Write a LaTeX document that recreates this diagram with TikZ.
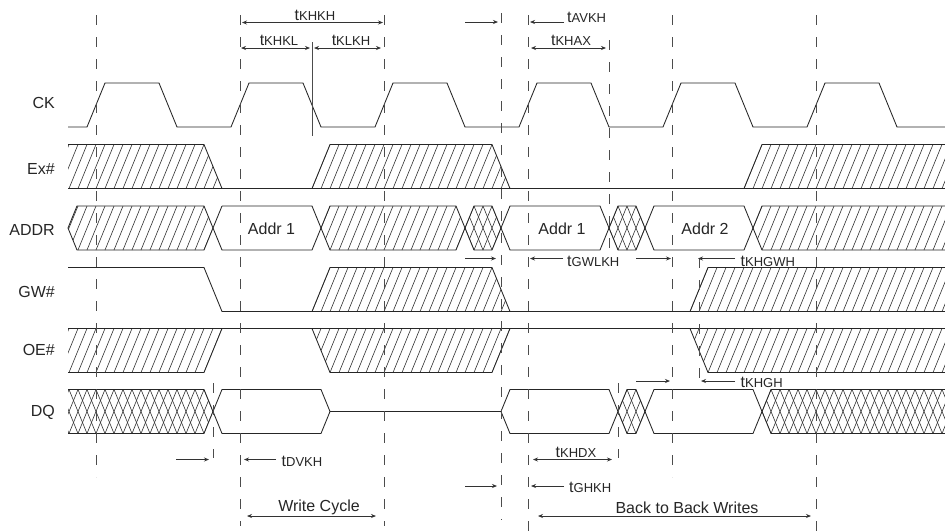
\documentclass[tikz,border=0pt]{standalone}
\usepackage{fontspec}
\usetikzlibrary{arrows.meta}
\setmainfont{Liberation Sans}
\begin{document}
\begin{tikzpicture}[x=1pt,y=-1pt,line join=miter,
  sig/.style={draw=black!85,line width=0.85pt},
  hatchline/.style={draw=black!80,line width=0.6pt},
  guide/.style={draw=black!70,line width=1pt,dash pattern=on 10pt off 12pt},
  dimline/.style={draw=black!80,line width=0.8pt},
  oneend/.style={dimline,-{Stealth[length=5pt,width=4pt]}},
  twoend/.style={dimline,{Stealth[length=5pt,width=4pt]}-{Stealth[length=5pt,width=4pt]}},
  rowlabel/.style={font=\fontsize{16}{18}\selectfont,text=black!85,inner sep=0pt},
  biglabel/.style={font=\fontsize{16}{18}\selectfont,text=black!85,inner sep=0pt},
  timing/.style={font=\fontsize{13}{15}\selectfont,text=black!85,inner sep=0pt},
]
\useasboundingbox (0,0) rectangle (945,531);
\fill[white] (0,0) rectangle (945,531);
% hatch: #1 top y, #2 bottom y, #3 clip polygon path
\newcommand{\hatchfill}[3]{\begin{scope}\clip #3;
  \foreach \k in {-4,...,100}{\draw[hatchline] ({51+9*\k},#2) -- ({69+9*\k},#1);}
  \end{scope}}
\newcommand{\crossfill}[3]{\begin{scope}\clip #3;
  \foreach \k in {-4,...,100}{\draw[hatchline] ({51+9*\k},#2) -- ({69+9*\k},#1);
     \draw[hatchline] ({51+9*\k},#1) -- ({69+9*\k},#2);}
  \end{scope}}
% CK
\draw[sig] (68,127) -- (87,127) -- (105,83) -- (159,83) -- (177,127)
  -- (231,127) -- (249,83) -- (303,83) -- (321,127)
  -- (375,127) -- (393,83) -- (447,83) -- (465,127)
  -- (519,127) -- (537,83) -- (591,83) -- (609,127)
  -- (663,127) -- (681,83) -- (735,83) -- (753,127)
  -- (807,127) -- (825,83) -- (879,83) -- (897,127) -- (945,127);
% Ex#
\hatchfill{144.5}{188.5}{(68,144.5) -- (204,144.5) -- (222,188.5) -- (68,188.5) -- cycle}
\hatchfill{144.5}{188.5}{(312,188.5) -- (330,144.5) -- (492,144.5) -- (510,188.5) -- cycle}
\hatchfill{144.5}{188.5}{(744,188.5) -- (762,144.5) -- (945,144.5) -- (945,188.5) -- cycle}
\draw[sig] (68,144.5) -- (204,144.5) -- (222,188.5);
\draw[sig] (312,188.5) -- (330,144.5) -- (492,144.5) -- (510,188.5);
\draw[sig] (744,188.5) -- (762,144.5) -- (945,144.5);
\draw[sig] (68,188.5) -- (945,188.5);
% ADDR
\hatchfill{206}{250}{(68,228) -- (77,206) -- (204,206) -- (213,228) -- (204,250) -- (77,250) -- cycle}
\hatchfill{206}{250}{(321,228) -- (330,206) -- (456,206) -- (465,228) -- (456,250) -- (330,250) -- cycle}
\hatchfill{206}{250}{(753,228) -- (762,206) -- (945,206) -- (945,250) -- (762,250) -- cycle}
\crossfill{206}{250}{(465,228) -- (474,206) -- (492,206) -- (501,228) -- (492,250) -- (474,250) -- cycle}
\crossfill{206}{250}{(609,228) -- (618,206) -- (636,206) -- (645,228) -- (636,250) -- (618,250) -- cycle}
\draw[sig] (222,206) -- (204,250) -- (77,250) -- (68,228) -- (77,206) -- (204,206) -- (222,250) -- (312,250) -- (330,206) -- (456,206) -- (474,250) -- (492,250) -- (510,206) -- (600,206) -- (618,250) -- (636,250) -- (654,206) -- (744,206) -- (762,250) -- (945,250);
\draw[sig] (222,206) -- (312,206) -- (330,250) -- (456,250) -- (474,206) -- (492,206) -- (510,250) -- (600,250) -- (618,206) -- (636,206) -- (654,250) -- (744,250) -- (762,206) -- (945,206);
% GW#
\hatchfill{267.5}{311.5}{(312,311.5) -- (330,267.5) -- (492,267.5) -- (510,311.5) -- cycle}
\hatchfill{267.5}{311.5}{(690,311.5) -- (708,267.5) -- (945,267.5) -- (945,311.5) -- cycle}
\draw[sig] (68,267.5) -- (204,267.5) -- (222,311.5) -- (945,311.5);
\draw[sig] (312,311.5) -- (330,267.5) -- (492,267.5) -- (510,311.5);
\draw[sig] (690,311.5) -- (708,267.5) -- (945,267.5);
% OE#
\hatchfill{328.5}{372.5}{(68,328.5) -- (222,328.5) -- (204,372.5) -- (68,372.5) -- cycle}
\hatchfill{328.5}{372.5}{(312,328.5) -- (510,328.5) -- (492,372.5) -- (330,372.5) -- cycle}
\hatchfill{328.5}{372.5}{(690,328.5) -- (945,328.5) -- (945,372.5) -- (708,372.5) -- cycle}
\draw[sig] (68,328.5) -- (945,328.5);
\draw[sig] (222,328.5) -- (204,372.5) -- (68,372.5);
\draw[sig] (312,328.5) -- (330,372.5) -- (492,372.5) -- (510,328.5);
\draw[sig] (690,328.5) -- (708,372.5) -- (945,372.5);
% DQ
\crossfill{389.5}{433.5}{(68,389.5) -- (204,389.5) -- (213,411.5) -- (204,433.5) -- (68,433.5) -- cycle}
\crossfill{389.5}{433.5}{(618,411.5) -- (627,389.5) -- (636,389.5) -- (645,411.5) -- (636,433.5) -- (627,433.5) -- cycle}
\crossfill{389.5}{433.5}{(762,411.5) -- (771,389.5) -- (945,389.5) -- (945,433.5) -- (771,433.5) -- cycle}
\draw[sig] (68,389.5) -- (204,389.5) -- (222,433.5) -- (321,433.5) -- (330,411.5) -- (501,411.5) -- (510,433.5) -- (609,433.5) -- (627,389.5) -- (636,389.5) -- (654,433.5) -- (753,433.5) -- (771,389.5) -- (945,389.5);
\draw[sig] (68,433.5) -- (204,433.5) -- (222,389.5) -- (321,389.5) -- (330,411.5);
\draw[sig] (501,411.5) -- (510,389.5) -- (609,389.5) -- (627,433.5) -- (636,433.5) -- (654,389.5) -- (753,389.5) -- (771,433.5) -- (945,433.5);
% guides
\newcommand{\guideline}[4]{\coordinate (#1a) at (#2,#3); \coordinate (#1b) at (#2,#4); \draw[guide] (#1a) -- (#1b);}
\guideline{ga}{96}{15}{477}
\guideline{gb}{240}{15}{526}
\guideline{gc}{384}{15}{526}
\guideline{gd}{501}{13}{520}
\guideline{ge}{528}{15}{531}
\guideline{gf}{609}{40}{250}
\guideline{gg}{618}{383}{458}
\guideline{gh}{672}{15}{477}
\guideline{gi}{699}{258}{380}
\guideline{gj}{816}{15}{531}
\guideline{gk}{213}{383}{458}
\coordinate (sa) at (312,42); \coordinate (sb) at (312,136);
\draw[draw=black!70,line width=1pt] (sa) -- (sb);
% arrows
\newcommand{\onearrow}[4]{\coordinate (#1a) at (#2,#4); \coordinate (#1b) at (#3,#4); \draw[oneend] (#1a) -- (#1b);}
\newcommand{\twoarrow}[4]{\coordinate (#1a) at (#2,#4); \coordinate (#1b) at (#3,#4); \draw[twoend] (#1a) -- (#1b);}
\newcommand{\tlabel}[1]{{\fontsize{16}{18}\selectfont t}{\fontsize{13}{15}\selectfont #1}}
\twoarrow{aa}{242}{383}{22.5}
\twoarrow{ab}{241}{310}{48}
\twoarrow{ac}{314}{381}{48}
\onearrow{ad}{465}{498}{22}
\onearrow{ae}{564}{530}{22}
\twoarrow{af}{531}{606}{48}
\onearrow{ag}{465}{496}{258.5}
\onearrow{ah}{563}{530}{258.5}
\onearrow{ai}{636}{671}{258.5}
\onearrow{aj}{735}{698}{258.5}
\onearrow{ak}{735}{701}{381}
\onearrow{al}{636}{670}{381}
\onearrow{am}{276}{244}{459.5}
\onearrow{an}{176}{209}{459.5}
\twoarrow{ao}{247}{376}{516}
\twoarrow{ap}{533}{612}{459.5}
\onearrow{aq}{564}{531}{486}
\onearrow{ar}{465}{497}{486}
\twoarrow{as}{538}{811}{516}
% timing labels
\node[timing,anchor=base] (la) at (315,20) {\tlabel{KHKH}};
\node[timing,anchor=base] (lb) at (279,45) {\tlabel{KHKL}};
\node[timing,anchor=base] (lc) at (351,45) {\tlabel{KLKH}};
\node[timing,anchor=base west] (ld) at (567,22) {\tlabel{AVKH}};
\node[timing,anchor=base] (le) at (571,45) {\tlabel{KHAX}};
\node[timing,anchor=base west] (lf) at (567,266) {\tlabel{GWLKH}};
\node[timing,anchor=base west] (lg) at (740.5,266) {\tlabel{KHGWH}};
\node[timing,anchor=base west] (lh) at (740.5,387) {\tlabel{KHGH}};
\node[timing,anchor=base west] (li) at (281.5,466) {\tlabel{DVKH}};
\node[timing,anchor=base] (lj) at (576,457) {\tlabel{KHDX}};
\node[timing,anchor=base west] (lk) at (569,492) {\tlabel{GHKH}};
\node[biglabel,anchor=base] (ll) at (319,511) {Write Cycle};
\node[biglabel,anchor=base] (lm) at (687,513) {Back to Back Writes};
\node[biglabel,anchor=base] (ln) at (271.5,234) {Addr 1};
\node[biglabel,anchor=base] (lo) at (562,234) {Addr 1};
\node[biglabel,anchor=base] (lp) at (705,234) {Addr 2};
% row labels
\node[rowlabel,anchor=base east] (ra) at (55,108.5) {CK};
\node[rowlabel,anchor=base east] (rb) at (55,174.5) {Ex\#};
\node[rowlabel,anchor=base east] (rc) at (55,235.5) {ADDR};
\node[rowlabel,anchor=base east] (rd) at (55,297.5) {GW\#};
\node[rowlabel,anchor=base east] (re) at (55,355.5) {OE\#};
\node[rowlabel,anchor=base east] (rf) at (55,416.5) {DQ};
\end{tikzpicture}
\end{document}
